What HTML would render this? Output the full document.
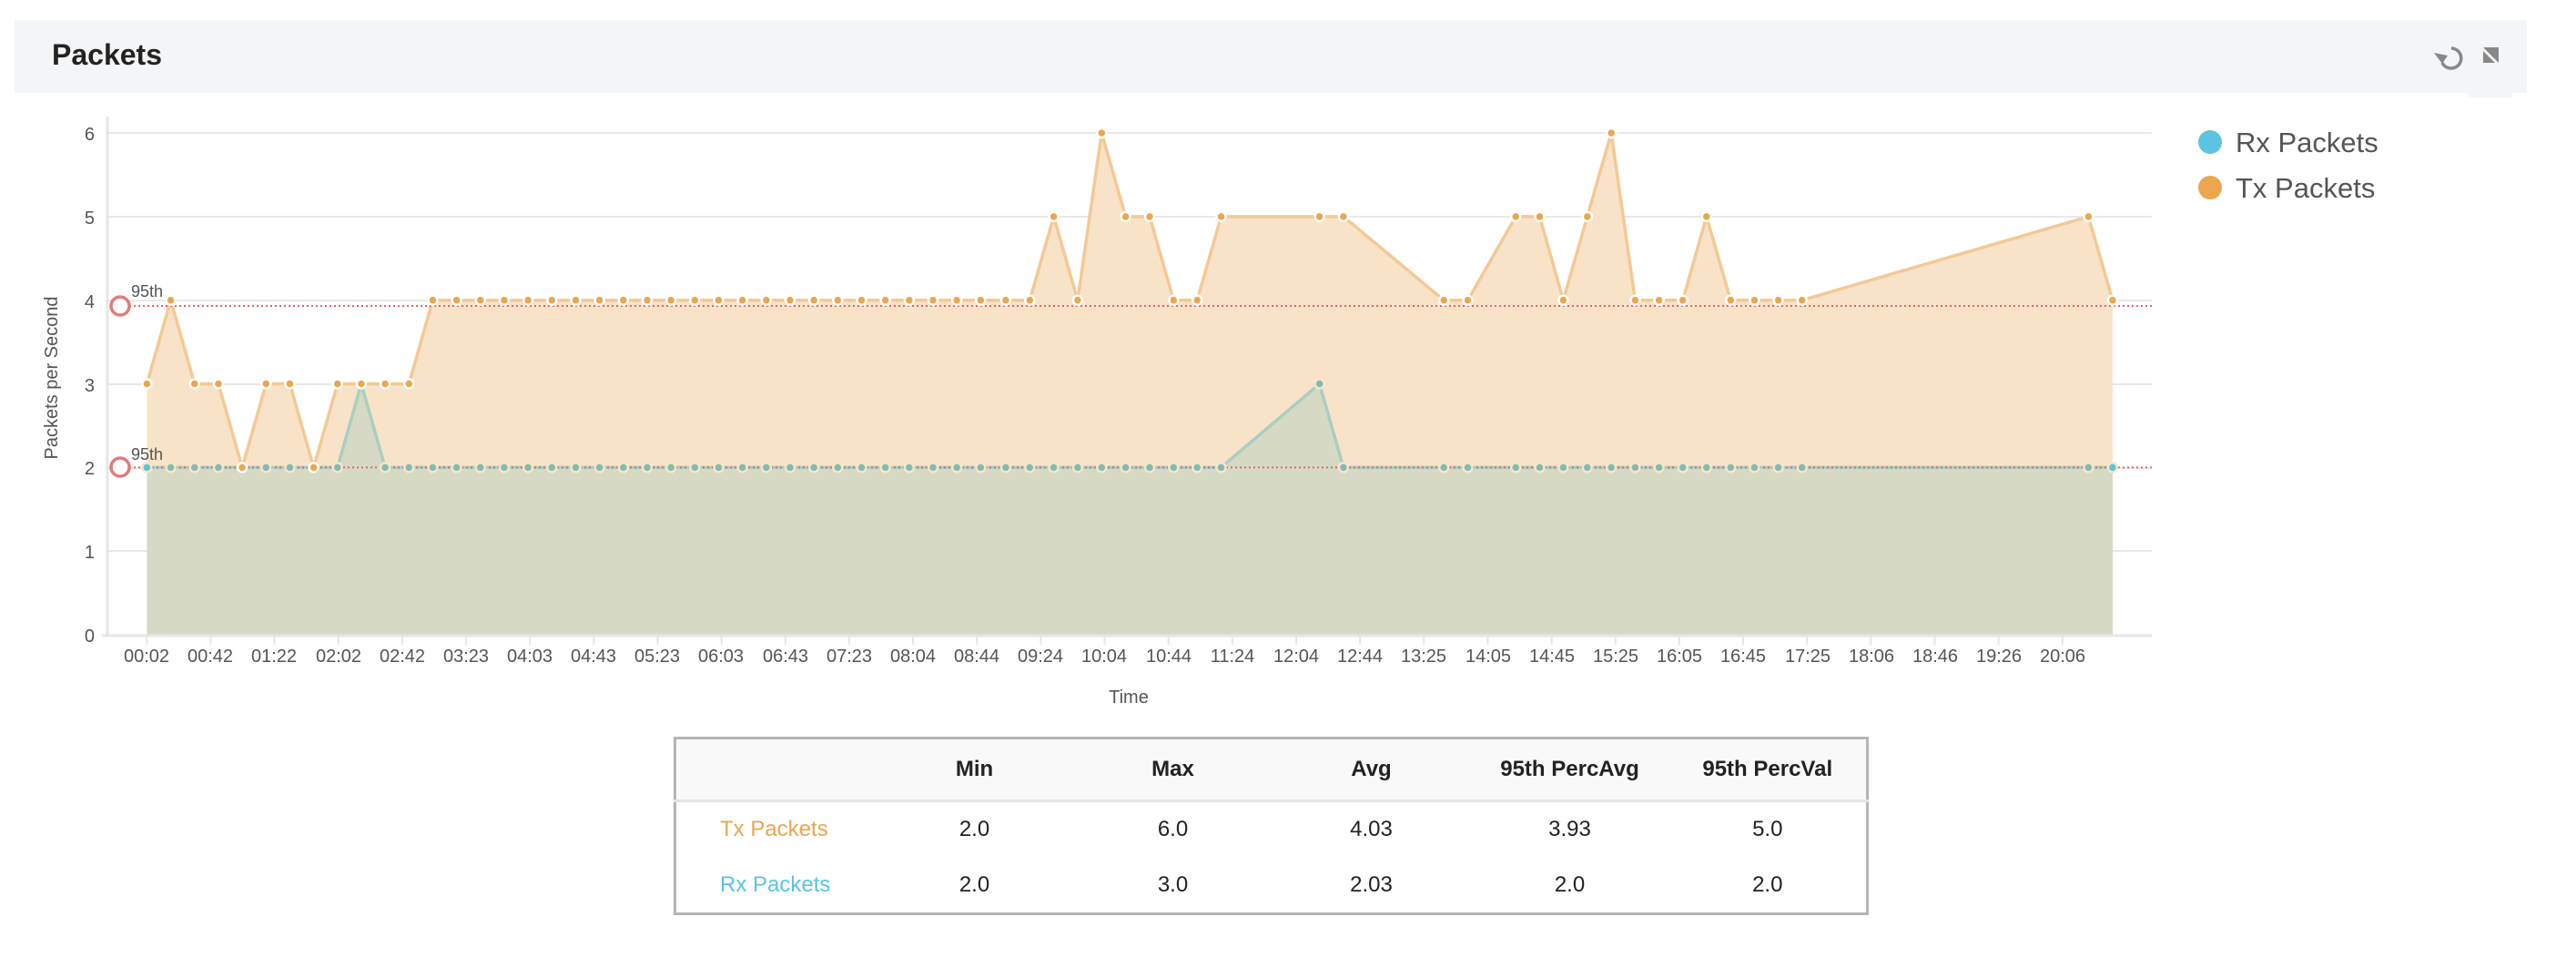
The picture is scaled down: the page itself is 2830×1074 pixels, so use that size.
<!DOCTYPE html>
<html><head><meta charset="utf-8">
<style>
html,body{margin:0;padding:0;background:#fff;}
body{width:2830px;height:1074px;position:relative;overflow:hidden;font-family:"Liberation Sans",sans-serif;}
.hdr{position:absolute;left:16px;top:22px;width:2760px;height:80px;background:#f4f5f7;}
.hdr .t{position:absolute;left:41px;top:20px;font-size:32px;font-weight:bold;color:#222;}
.tab{position:absolute;left:2712px;top:102px;width:48px;height:5px;background:#f4f5f7;}
svg{position:absolute;left:0;top:0;}
table{position:absolute;left:740px;top:809px;width:1311px;height:196px;border:3px solid #b5b5b5;border-collapse:collapse;font-size:24px;color:#222;table-layout:fixed;}
th{background:#f9f9f9;font-weight:bold;height:64px;border-bottom:3px solid #e4e4e4;text-align:center;}
td{text-align:center;}
td.l{text-align:left;padding-left:48px;}
</style></head><body>
<div class="hdr"><div class="t">Packets</div></div>
<div class="tab"></div>
<svg width="2830" height="1074" id="s">
  <g stroke="#888" fill="none">
    <path d="M2693 53 A11 11 0 1 1 2683 69" stroke-width="3.5"/>
    <path d="M2674 58 L2683 70 L2689 61 Z" fill="#888" stroke="none"/>
    <path d="M2728 52 L2745 52 L2745 69 Z M2728 56 L2741 69 L2728 69 Z" fill="#888" stroke="none"/>
  </g>
  <g stroke="#e8e8e8" stroke-width="2">
    <line x1="118" y1="146" x2="2364" y2="146"/>
    <line x1="118" y1="238" x2="2364" y2="238"/>
    <line x1="118" y1="330" x2="2364" y2="330"/>
    <line x1="118" y1="422" x2="2364" y2="422"/>
    <line x1="118" y1="514" x2="2364" y2="514"/>
    <line x1="118" y1="605" x2="2364" y2="605"/>
  </g>
  <g id="plot"></g>
  <line x1="118" y1="128" x2="118" y2="699" stroke="#e6e6e6" stroke-width="3"/>
  <line x1="112" y1="698" x2="2364" y2="698" stroke="#e6e6e6" stroke-width="3"/>
  <g id="ticks" stroke="#e6e6e6" stroke-width="2"></g>
  <g font-size="20" fill="#555" text-anchor="end">
    <text x="104" y="705">0</text><text x="104" y="613">1</text><text x="104" y="521">2</text>
    <text x="104" y="430">3</text><text x="104" y="338">4</text><text x="104" y="246">5</text><text x="104" y="154">6</text>
  </g>
  <text transform="translate(63,415) rotate(-90)" font-size="20" fill="#555" text-anchor="middle">Packets per Second</text>
  <text x="1240" y="772" font-size="20" fill="#555" text-anchor="middle">Time</text>
  <g font-size="20" fill="#555" text-anchor="middle">
    <text x="161" y="727">00:02</text><text x="231" y="727">00:42</text><text x="301" y="727">01:22</text><text x="372" y="727">02:02</text><text x="442" y="727">02:42</text><text x="512" y="727">03:23</text><text x="582" y="727">04:03</text><text x="652" y="727">04:43</text><text x="722" y="727">05:23</text><text x="792" y="727">06:03</text><text x="863" y="727">06:43</text><text x="933" y="727">07:23</text><text x="1003" y="727">08:04</text><text x="1073" y="727">08:44</text><text x="1143" y="727">09:24</text><text x="1213" y="727">10:04</text><text x="1284" y="727">10:44</text><text x="1354" y="727">11:24</text><text x="1424" y="727">12:04</text><text x="1494" y="727">12:44</text><text x="1564" y="727">13:25</text><text x="1635" y="727">14:05</text><text x="1705" y="727">14:45</text><text x="1775" y="727">15:25</text><text x="1845" y="727">16:05</text><text x="1915" y="727">16:45</text><text x="1986" y="727">17:25</text><text x="2056" y="727">18:06</text><text x="2126" y="727">18:46</text><text x="2196" y="727">19:26</text><text x="2266" y="727">20:06</text>
  </g>
  <g font-size="18" fill="#555">
    <text x="144" y="326">95th</text><text x="144" y="505">95th</text>
  </g>
  <circle cx="132" cy="336" r="10" fill="#fff" stroke="#e07b7b" stroke-width="3.5"/>
  <circle cx="132" cy="513" r="10" fill="#fff" stroke="#e07b7b" stroke-width="3.5"/>
  <circle cx="2428" cy="156" r="13" fill="#5bc4e0"/>
  <circle cx="2428" cy="206" r="13" fill="#eda54e"/>
  <g font-size="31" fill="#555"><text x="2456" y="167">Rx Packets</text><text x="2456" y="217">Tx Packets</text></g>
</svg>
<table>
<colgroup><col style="width:220px"><col style="width:218px"><col style="width:218px"><col style="width:218px"><col style="width:218px"><col style="width:218px"></colgroup>
<tr><th></th><th>Min</th><th>Max</th><th>Avg</th><th>95th PercAvg</th><th>95th PercVal</th></tr>
<tr><td class="l" style="color:#eda54e">Tx Packets</td><td>2.0</td><td>6.0</td><td>4.03</td><td>3.93</td><td>5.0</td></tr>
<tr><td class="l" style="color:#5bc4e0">Rx Packets</td><td>2.0</td><td>3.0</td><td>2.03</td><td>2.0</td><td>2.0</td></tr>
</table>
<script>
(function(){
var NS="http://www.w3.org/2000/svg";
function Y(v){return 697-v*91.83;}
var txv=[3,4,3,3,2,3,3,2,3,3,3,3];
var tx=[],rx=[];
for(var i=0;i<36;i++){var x=161.4+i*26.17;tx.push([x,i<12?txv[i]:4]);rx.push([x,i==9?3:2]);}
var ext=[[1104.9,4],[1131.3,4],[1157.6,5],[1183.9,4],[1210.3,6],[1236.6,5],[1263,5],[1289.3,4],[1315.2,4],[1341.5,5],[1449.6,5],[1475.9,5],[1586.2,4],[1612.5,4],[1665.2,5],[1691.5,5],[1717.4,4],[1743.8,5],[1770.1,6],[1796.4,4],[1822.6,4],[1848.7,4],[1874.8,5],[1901.3,4],[1927.4,4],[1953.6,4],[1979.7,4],[2294.4,5],[2320.9,4]];
ext.forEach(function(p){tx.push(p);rx.push([p[0],p[0]==1449.6?3:2]);});
var g=document.getElementById("plot");
function el(n,a){var e=document.createElementNS(NS,n);for(var k in a)e.setAttribute(k,a[k]);g.appendChild(e);return e;}
function pts(arr){return arr.map(function(p){return p[0].toFixed(1)+","+Y(p[1]).toFixed(1);}).join(" ");}
function area(arr){return pts(arr)+" "+arr[arr.length-1][0]+","+697+" "+arr[0][0]+",697";}
el("polygon",{points:area(tx),fill:"#f9e3c8"});
el("polygon",{points:area(rx),fill:"#d6d9c3"});
el("polyline",{points:pts(tx),fill:"none",stroke:"#f3c995","stroke-width":3.5,"stroke-linejoin":"round"});
el("polyline",{points:pts(rx),fill:"none",stroke:"#a9cfc2","stroke-width":3.5,"stroke-linejoin":"round"});
el("line",{x1:132,y1:336,x2:2364,y2:336,stroke:"#e06666","stroke-width":2,"stroke-dasharray":"2,3"});
el("line",{x1:132,y1:513.4,x2:2364,y2:513.4,stroke:"#e06666","stroke-width":2,"stroke-dasharray":"2,3"});
rx.forEach(function(p,i){el("circle",{cx:p[0],cy:Y(p[1]),r:5,fill:(i==0||i==rx.length-1)?"#5bc4e0":"#7fbcb4",stroke:"#fae5c8","stroke-width":2.5});});
tx.forEach(function(p){el("circle",{cx:p[0],cy:Y(p[1]),r:5,fill:"#eda54e",stroke:"#fff","stroke-width":2.5});});
var t=document.getElementById("ticks");
for(var j=0;j<31;j++){var x=161.3+j*70.15;var l=document.createElementNS(NS,"line");l.setAttribute("x1",x);l.setAttribute("x2",x);l.setAttribute("y1",699);l.setAttribute("y2",708);t.appendChild(l);}
})();
</script>
</body></html>
